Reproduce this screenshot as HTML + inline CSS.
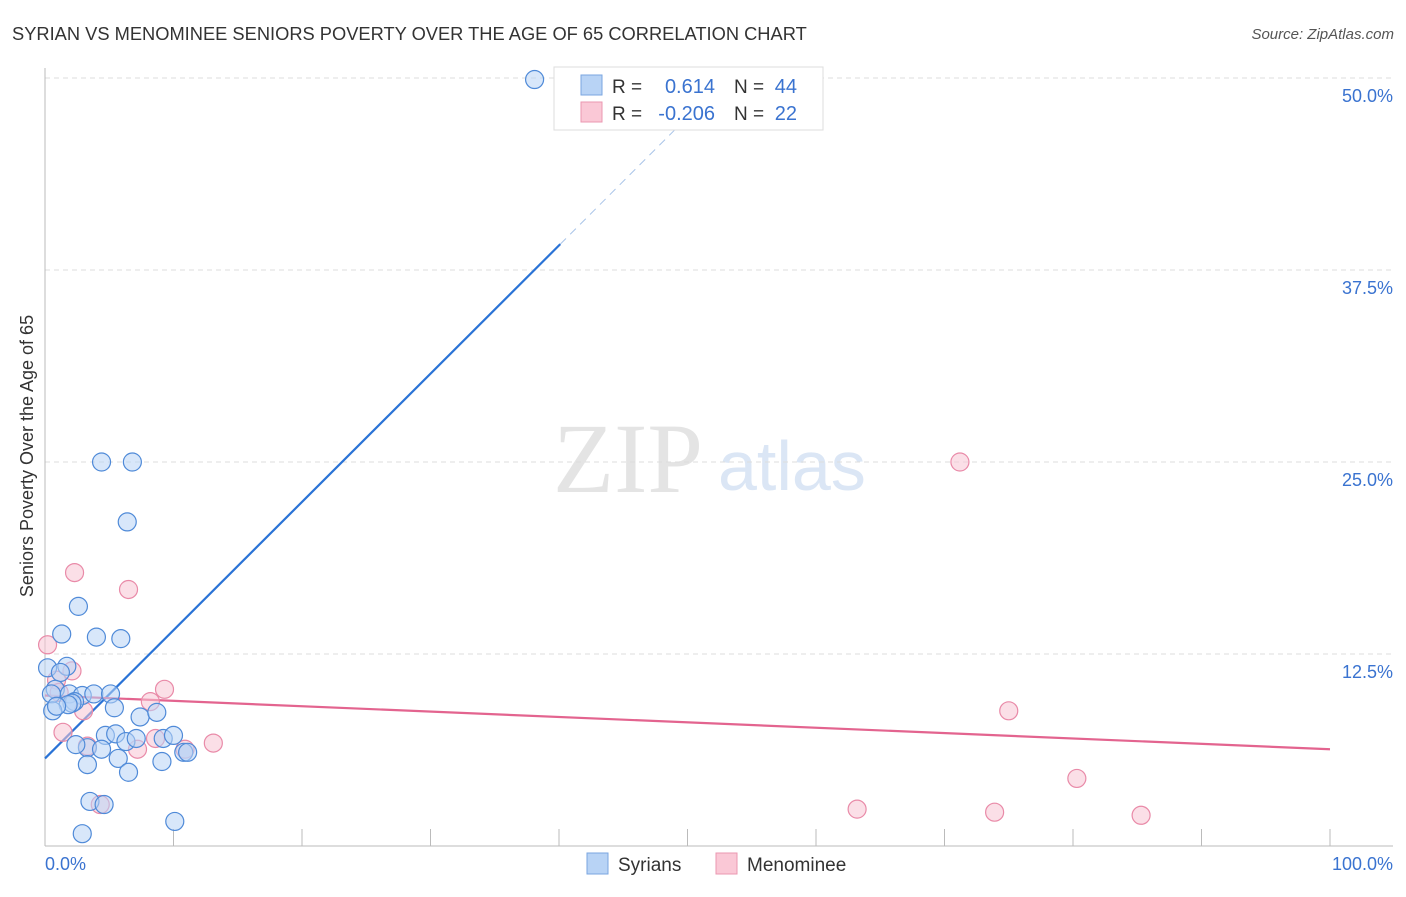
<!DOCTYPE html>
<html><head><meta charset="utf-8"><style>
body{margin:0;background:#fff;font-family:"Liberation Sans",sans-serif;}
</style></head><body>
<svg id="chart" width="1406" height="892" font-family="Liberation Sans, sans-serif">
<text x="12" y="40" font-size="18.3" fill="#333">SYRIAN VS MENOMINEE SENIORS POVERTY OVER THE AGE OF 65 CORRELATION CHART</text>
<text x="1394" y="39" font-size="15" fill="#555" font-style="italic" text-anchor="end">Source: ZipAtlas.com</text>
<text transform="translate(33,456) rotate(-90)" font-size="18" fill="#333" text-anchor="middle">Seniors Poverty Over the Age of 65</text>
<text x="553" y="492" font-size="100" fill="#e4e4e4" style="font-family:'Liberation Serif',serif">ZIP</text>
<text x="718" y="490" font-size="70" fill="#dbe6f5">atlas</text>
<g id="grid"></g><g id="axes"></g><g id="lines"></g><g id="pts"></g>
<g>
<rect x="554" y="67" width="269" height="63" fill="#fff" stroke="#ddd"/>
<rect x="581" y="75" width="21" height="20" fill="#b8d3f5" stroke="#7aa6e0"/>
<rect x="581" y="102" width="21" height="20" fill="#fac8d6" stroke="#eb97b0"/>
<text x="612" y="93" font-size="19" fill="#333">R =</text>
<text x="715" y="93" font-size="20" fill="#3a73d0" text-anchor="end">0.614</text>
<text x="734" y="93" font-size="19" fill="#333">N =</text>
<text x="797" y="93" font-size="20" fill="#3a73d0" text-anchor="end">44</text>
<text x="612" y="120" font-size="19" fill="#333">R =</text>
<text x="715" y="120" font-size="20" fill="#3a73d0" text-anchor="end">-0.206</text>
<text x="734" y="120" font-size="19" fill="#333">N =</text>
<text x="797" y="120" font-size="20" fill="#3a73d0" text-anchor="end">22</text>
</g>
<g>
<rect x="587" y="853" width="21" height="21" fill="#b8d3f5" stroke="#7aa6e0"/>
<text x="618" y="871" font-size="19" fill="#333">Syrians</text>
<rect x="716" y="853" width="21" height="21" fill="#fac8d6" stroke="#eb97b0"/>
<text x="747" y="871" font-size="19" fill="#333">Menominee</text>
</g>
</svg>
<script>
const yTicks=[12.5,25.0,37.5,50.0];
const xTickLabels=["0.0%","100.0%"];
const syrX=[38.1,4.4,6.8,6.4,2.6,1.3,4.0,5.9,0.2,1.7,1.2,0.8,0.5,1.9,2.9,3.8,5.1,2.3,2.1,1.8,0.6,0.9,5.4,7.4,8.7,4.7,5.5,6.3,7.1,9.2,10.0,3.3,4.4,2.4,5.7,9.1,10.8,6.5,3.3,3.5,4.6,2.9,10.1,11.1];
const syrY=[49.9,25.0,25.0,21.1,15.6,13.8,13.6,13.5,11.6,11.7,11.3,10.2,9.9,9.9,9.8,9.9,9.9,9.4,9.3,9.2,8.8,9.1,9.0,8.4,8.7,7.2,7.3,6.8,7.0,7.0,7.2,6.4,6.3,6.6,5.7,5.5,6.1,4.8,5.3,2.9,2.7,0.8,1.6,6.1];
const menX=[71.2,2.3,6.5,0.2,2.1,0.9,1.1,9.3,8.2,3.0,1.4,8.6,3.3,7.2,10.9,13.1,75.0,80.3,63.2,73.9,85.3,4.3];
const menY=[25.0,17.8,16.7,13.1,11.4,10.8,10.0,10.2,9.4,8.8,7.4,7.0,6.5,6.3,6.3,6.7,8.8,4.4,2.4,2.2,2.0,2.7];
const syrTrend=[5.7,0.835];
const menTrend=[9.8,-0.035];
const X=v=>45+v*12.85, Y=v=>846-v*15.36;
const NS="http://www.w3.org/2000/svg";
function mk(t,a,p){const e=document.createElementNS(NS,t);for(const k in a)e.setAttribute(k,a[k]);p.appendChild(e);return e;}
const grid=document.getElementById('grid'),axes=document.getElementById('axes'),lines=document.getElementById('lines'),pts=document.getElementById('pts');
yTicks.forEach(t=>{
 const l=mk('line',{x1:45,x2:1393,y1:Y(t),y2:Y(t),stroke:'#ddd','stroke-dasharray':'5,4'},grid);
 
 
 const tx=mk('text',{x:1393,y:Y(t)+24,'font-size':18,fill:'#3a73d0','text-anchor':'end'},grid);
 tx.textContent=t.toFixed(1)+'%';
 
 
});
const ya=mk('line',{x1:45,x2:45,y1:68,y2:846,stroke:'#bbb'},axes);


const xa=mk('line',{x1:45,x2:1393,y1:846,y2:846,stroke:'#bbb'},axes);


for(let i=0;i<=10;i++){
 const t=mk('line',{x1:X(i*10),x2:X(i*10),y1:829,y2:846,stroke:'#bbb'},axes);
 
 
}
[[0,'start',45],[100,'end',1393]].forEach((d,i)=>{
 const t=mk('text',{x:d[2],y:870,'font-size':18,fill:'#3a73d0','text-anchor':d[1]},axes);
 t.textContent=xTickLabels[i];
 
 
});
function pt(xs,ys,fill,stroke,name){
 xs.forEach((x,i)=>{
  const c=mk('circle',{cx:X(x),cy:Y(ys[i]),r:9,fill:fill,'fill-opacity':0.55,stroke:stroke,'stroke-width':1.2},pts);
  
  
 });
}
pt(menX,menY,'#f8c4d3','#e98aa8','menominee-point');
pt(syrX,syrY,'#b8d3f5','#4f8ad8','syrian-point');
const s1=mk('line',{x1:X(0),y1:Y(syrTrend[0]),x2:X(40.1),y2:Y(syrTrend[0]+syrTrend[1]*40.1),stroke:'#2a73d6','stroke-width':2.2},lines);


const s2=mk('line',{x1:X(40.1),y1:Y(syrTrend[0]+syrTrend[1]*40.1),x2:X(51),y2:Y(syrTrend[0]+syrTrend[1]*51),stroke:'#a9c4e8','stroke-width':1,'stroke-dasharray':'8,6'},lines);


const m1=mk('line',{x1:X(0),y1:Y(menTrend[0]),x2:X(100),y2:Y(menTrend[0]+menTrend[1]*100),stroke:'#e3648f','stroke-width':2.2},lines);


</script>
</body></html>
